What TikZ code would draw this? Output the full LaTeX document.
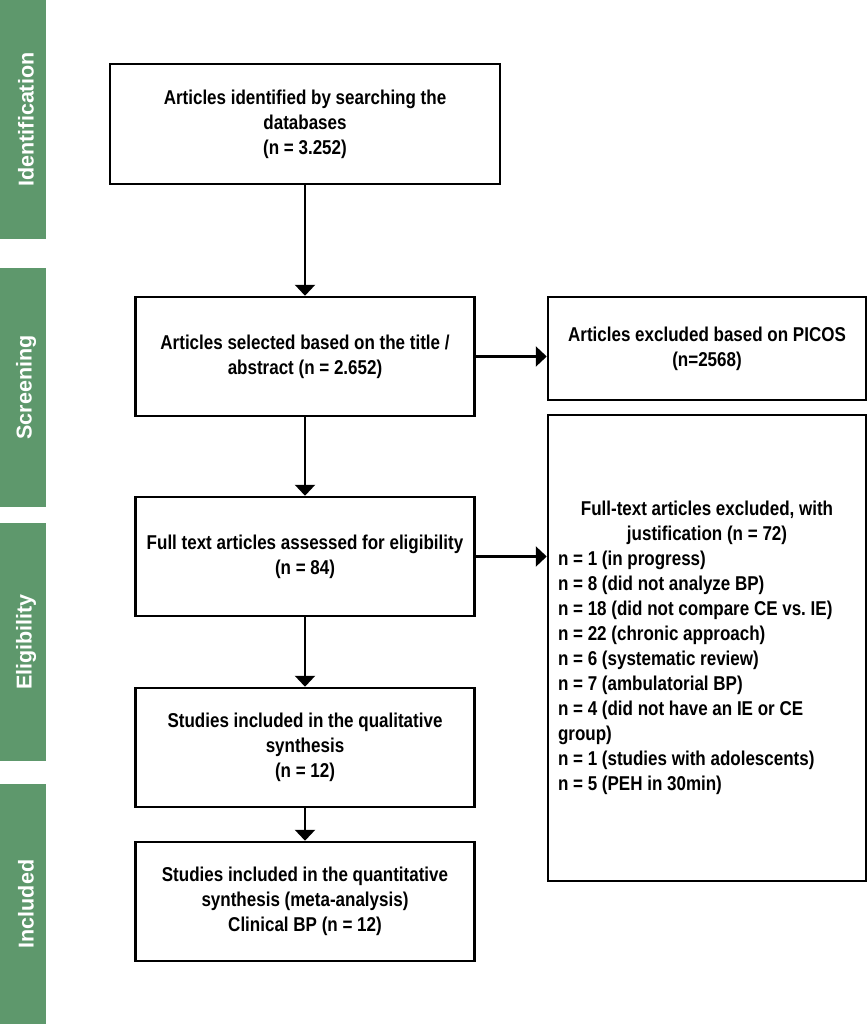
\documentclass[tikz,border=0pt]{standalone}
\usepackage{fontspec}
\setmainfont{Liberation Sans}
\newfontfamily\narrowsans{Liberation Sans}[FakeStretch=0.85]
\usetikzlibrary{arrows.meta}
\definecolor{stagegreen}{RGB}{94,152,108}

\begin{document}
\begin{tikzpicture}[x=1pt, y=-1pt,
  stage/.style={fill=stagegreen, rotate=90, minimum height=46pt, inner sep=0pt},
  stagetext/.style={text=white, rotate=90, inner sep=0pt, font=\fontsize{21.5}{24}\selectfont\bfseries},
  box/.style={draw, line width=2.5pt, align=center, minimum width=339pt, minimum height=119pt, font=\narrowsans\fontsize{20}{25}\selectfont\bfseries},
  flow/.style={line width=2.5pt, -{Triangle[width=20pt, length=11pt]}}]
  \useasboundingbox (0,0) rectangle (867,1024);
  % stage bars on the left
  \foreach \ya/\yb/\nm/\lab in {0/239/ident/Identification, 268/507/screen/Screening, 523/761/elig/Eligibility, 784/1024/incl/Included} {
    \pgfmathsetmacro{\len}{\yb-\ya}
    \node[stage, minimum width=\len pt] (\nm) at (23,{(\ya+\yb)/2}) {};
    \node[stagetext] (\nm-lab) at ([xshift=3pt]\nm.center) {\lab};
  }
  % main column
  \node[box, minimum width=390pt, minimum height=120pt] (found) at (305,124) {Articles identified by searching the\\ databases\\ (n = 3.252)};
  \node[box] (chosen) at (305,356.5) {Articles selected based on the title /\\ abstract (n = 2.652)};
  \node[box] (fulltext) at (305,556.5) {Full text articles assessed for eligibility\\ (n = 84)};
  \node[box] (quali) at (305,747.5) {Studies included in the qualitative\\ synthesis\\ (n = 12)};
  \node[box] (quanti) at (305,901.5) {Studies included in the quantitative\\ synthesis (meta-analysis)\\ Clinical BP (n = 12)};
  % exclusions
  \node[box, minimum width=318pt, minimum height=103pt] (picos) at (707,348.5) {Articles excluded based on PICOS\\ (n=2568)};
  \node[box, minimum width=318pt, minimum height=466pt, text width=298pt, align=flush left] (why) at (707,648) {%
    {\centering Full-text articles excluded, with\\ justification (n = 72)\par}
    \raggedright n = 1 (in progress)\\
    n = 8 (did not analyze BP)\\
    n = 18 (did not compare CE vs.\ IE)\\
    n = 22 (chronic approach)\\
    n = 6 (systematic review)\\
    n = 7 (ambulatorial BP)\\
    n = 4 (did not have an IE or CE\\
    group)\\
    n = 1 (studies with adolescents)\\
    n = 5 (PEH in 30min)};
  \draw[flow] (found) -- (chosen);
  \draw[flow] (chosen) -- (fulltext);
  \draw[flow] (fulltext) -- (quali);
  \draw[flow] (quali) -- (quanti);
  \draw[flow] (chosen.east) -- (chosen.east -| picos.west);
  \draw[flow] (fulltext.east) -- (fulltext.east -| why.west);
\end{tikzpicture}
\end{document}
